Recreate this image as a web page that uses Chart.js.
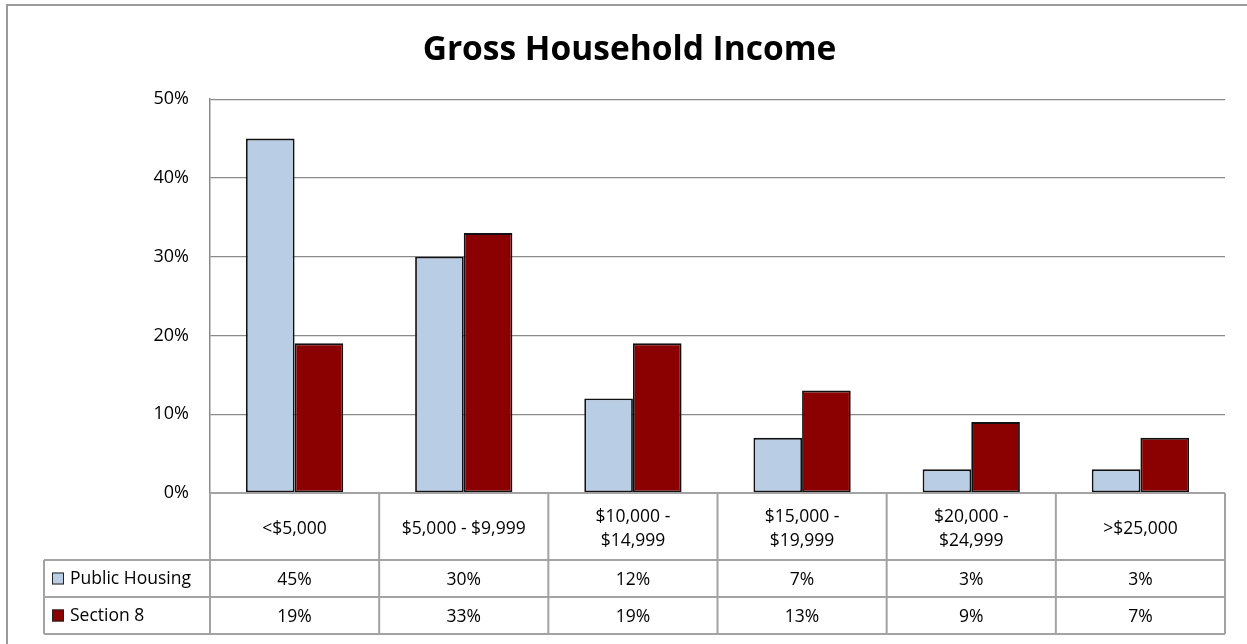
<!DOCTYPE html>
<html lang="en">
<head>
<meta charset="UTF-8">
<title>Gross Household Income</title>
<script src="https://cdn.jsdelivr.net/npm/chart.js"></script>
<style>
  html,body{margin:0;padding:0;background:#fff;overflow:hidden}
  #wrap{width:1247px;height:644px}
</style>
</head>
<body>
<div id="wrap"><canvas id="chart" width="1247" height="644"></canvas></div>
<script>
// categories, two lines where the table cell wraps
const categories = ['<$5,000', '$5,000 - $9,999', ['$10,000 -', '$14,999'], ['$15,000 -', '$19,999'], ['$20,000 -', '$24,999'], '>$25,000'];
const seriesNames = ['Public Housing', 'Section 8'];
const publicHousing = [45, 30, 12, 7, 3, 3];
const section8 = [19, 33, 19, 13, 9, 7];
const yTicks = [0, 10, 20, 30, 40, 50];

const FONT = '"Open Sans", Lato, sans-serif';
const GRID = '#8a8a8a';
const TABLE_LINE = '#a3a3a3';

// outer frame plus the data table under the plot
const dataTable = {
  id: 'dataTable',
  beforeDraw(chart) {
    const c = chart.ctx;
    c.save();
    c.strokeStyle = '#9a9a9a';
    c.lineWidth = 2;
    c.strokeRect(7, 5, 1400, 800);
    c.restore();
  },
  afterDraw(chart) {
    const c = chart.ctx, x = chart.scales.x, area = chart.chartArea;
    const n = chart.data.labels.length;
    const colW = (area.right - area.left) / n;
    const top = area.bottom, hdrB = top + 67, row1B = hdrB + 37, row2B = row1B + 37;
    const legL = 44;
    c.save();
    c.strokeStyle = TABLE_LINE;
    c.lineWidth = 2;
    c.beginPath();
    // horizontal lines
    c.moveTo(area.left, top); c.lineTo(area.right, top);
    c.moveTo(legL, hdrB); c.lineTo(area.right, hdrB);
    c.moveTo(legL, row1B); c.lineTo(area.right, row1B);
    c.moveTo(legL, row2B); c.lineTo(area.right, row2B);
    // vertical lines
    c.moveTo(legL, hdrB); c.lineTo(legL, row2B);
    for (let i = 0; i <= n; i++) {
      const px = i < n ? x.getPixelForTick(i) - colW / 2 : x.getPixelForTick(n - 1) + colW / 2;
      c.moveTo(px, top); c.lineTo(px, row2B);
    }
    c.stroke();

    c.fillStyle = '#000';
    c.font = '17.5px ' + FONT;
    c.textAlign = 'center';
    c.textBaseline = 'middle';
    chart.data.labels.forEach((lab, i) => {
      const cx = x.getPixelForTick(i);
      const lines = Array.isArray(lab) ? lab : [lab];
      const lh = 24;
      const y0 = (top + hdrB) / 2 + 3 - (lines.length - 1) * lh / 2;
      lines.forEach((t, k) => c.fillText(t, cx, y0 + k * lh));
    });

    const rows = [[hdrB, row1B], [row1B, row2B]];
    chart.data.datasets.forEach((ds, d) => {
      const cy = (rows[d][0] + rows[d][1]) / 2 + 1;
      // legend key
      c.fillStyle = ds.backgroundColor;
      c.fillRect(52, cy - 7, 12, 12);
      c.strokeStyle = '#222';
      c.lineWidth = 1;
      c.strokeRect(52.5, cy - 6.5, 11, 11);
      c.fillStyle = '#000';
      c.textAlign = 'left';
      c.fillText(ds.label, 70, cy);
      c.textAlign = 'center';
      ds.data.forEach((v, i) => c.fillText(v + '%', x.getPixelForTick(i), cy + 1));
    });
    c.restore();
  }
};

new Chart(document.getElementById('chart'), {
  type: 'bar',
  data: {
    labels: categories,
    datasets: [
      { label: seriesNames[0], data: publicHousing, backgroundColor: '#b9cde5', borderColor: '#111', borderWidth: 1.8, borderSkipped: false },
      { label: seriesNames[1], data: section8, backgroundColor: '#8b0000', borderColor: '#111', borderWidth: 1.8, borderSkipped: false }
    ]
  },
  options: {
    responsive: false,
    animation: false,
    layout: { padding: { left: 34, right: 22, bottom: 151 } },
    datasets: { bar: { barPercentage: 1, categoryPercentage: 0.575 } },
    plugins: {
      legend: { display: false },
      tooltip: { enabled: false },
      title: {
        display: true,
        text: 'Gross Household Income',
        color: '#000',
        font: { family: FONT, size: 33.5, weight: 'bold' },
        padding: { top: 30, bottom: 29 }
      }
    },
    scales: {
      x: { display: false },
      y: {
        min: 0, max: 50,
        afterFit(scale) { scale.width = 176; },
        afterBuildTicks(scale) { scale.ticks = yTicks.map(v => ({ value: v })); },
        grid: { color: GRID, lineWidth: 1.2, drawTicks: false },
        border: { display: true, color: GRID, width: 1.5 },
        ticks: { color: '#000', padding: 21, font: { family: FONT, size: 18 }, callback: v => v + '%' }
      }
    }
  },
  plugins: [dataTable]
});
</script>
</body>
</html>
